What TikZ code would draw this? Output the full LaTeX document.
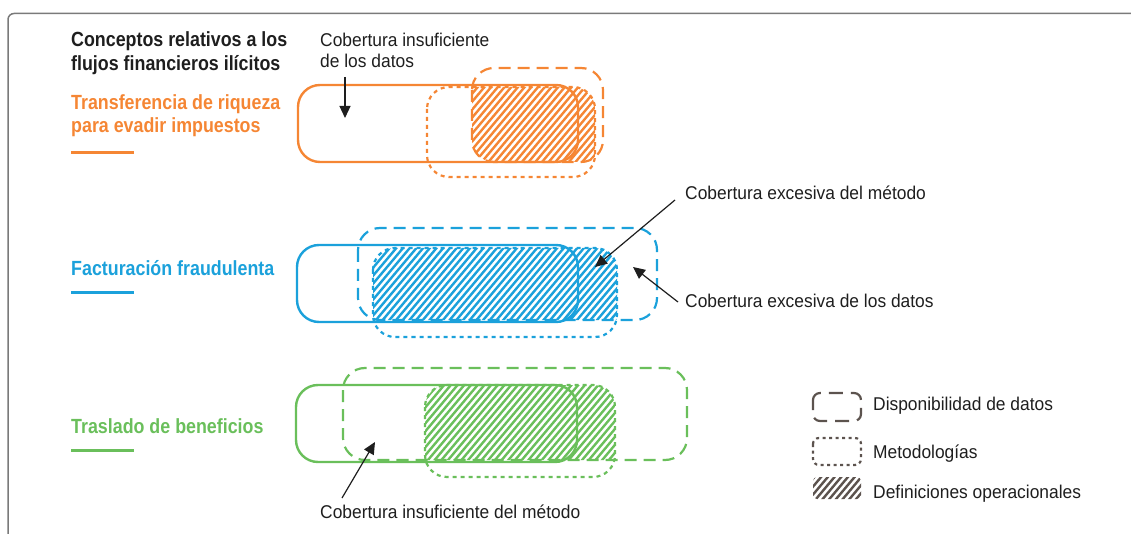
\documentclass[tikz,border=0pt]{standalone}
\usepackage{fontspec}
\setmainfont{Liberation Sans}[FakeStretch=0.94, BoldFeatures={FakeStretch=0.87}]
\usetikzlibrary{arrows.meta}
\definecolor{cor}{HTML}{F58634}
\definecolor{cbl}{HTML}{1BA1DB}
\definecolor{cgr}{HTML}{6ABF5B}
\definecolor{cleg}{HTML}{5C534E}
\definecolor{cframe}{HTML}{7A7A7A}
\definecolor{txt}{HTML}{1E1E1E}
\newcommand\hatchlines[3]{%
  \foreach \k in {0,...,75}{\draw[#1,line width=2.4pt] ({#2-95+6.7*\k},{#3+5}) -- ++(90,-107);}}
\tikzset{
  solidbox/.style={line width=2.4pt, rounded corners=22pt},
  databox/.style={line width=2.2pt, rounded corners=22pt, dash pattern=on 12pt off 7pt},
  methbox/.style={line width=2.2pt, rounded corners=22pt, dash pattern=on 4pt off 4pt},
  arr/.style={line width=1.2pt, txt, -{Triangle[length=12pt,width=11pt]}},
  lbl/.style={anchor=base west, inner sep=0pt, font=\fontsize{18.5}{21}\selectfont, text=txt},
  ttl/.style={anchor=base west, inner sep=0pt, font=\fontsize{20.5}{24}\selectfont\bfseries},
  uline/.style={line width=3pt}
}
\begin{document}
\begin{tikzpicture}[x=1pt,y=-1pt]
\useasboundingbox (0,0) rectangle (1131,534);
\clip (0,0) rectangle (1131,534);
% frame
\draw[cframe, line width=1.5pt, rounded corners=6pt] (8,545) -- (8,13.5) -- (1145,13.5);

% titles
\node[ttl, text=txt] (t1) at (71,47) {Conceptos relativos a los};
\node[ttl, text=txt] (t2) at (71,71) {flujos financieros ilícitos};
\node[ttl, text=cor] (o1) at (71,110) {Transferencia de riqueza};
\node[ttl, text=cor] (o2) at (71,133) {para evadir impuestos};
\draw[uline, cor] (71,152.5) -- (134,152.5);
\node[ttl, text=cbl] (b1) at (71,276) {Facturación fraudulenta};
\draw[uline, cbl] (71,293) -- (134,293);
\node[ttl, text=cgr] (g1) at (71,433) {Traslado de beneficios};
\draw[uline, cgr] (71,450) -- (134,450);

% orange row
\begin{scope}
\clip[rounded corners=22pt] (472,68) rectangle (603,162);
\clip[rounded corners=22pt] (427,87) rectangle (595,177);
\hatchlines{cor}{472}{162}
\end{scope}
\draw[solidbox, cor] (298,85) rectangle (578,162);
\draw[methbox, cor] (427,87) rectangle (595,177);
\draw[databox, cor] (472,68) rectangle (603,162);

% blue row
\begin{scope}
\clip[rounded corners=22pt] (358,228) rectangle (657,320);
\clip[rounded corners=22pt] (373,248) rectangle (617,337);
\hatchlines{cbl}{373}{320}
\end{scope}
\draw[solidbox, cbl] (297,245) rectangle (578,322);
\draw[methbox, cbl] (373,248) rectangle (617,337);
\draw[databox, cbl] (358,228) rectangle (657,320);

% green row
\begin{scope}
\clip[rounded corners=22pt] (343,368) rectangle (687,460);
\clip[rounded corners=22pt] (425,385) rectangle (615,477);
\hatchlines{cgr}{425}{460}
\end{scope}
\draw[solidbox, cgr] (296,385) rectangle (577,462);
\draw[methbox, cgr] (425,385) rectangle (615,477);
\draw[databox, cgr] (343,368) rectangle (687,460);

% annotations
\node[lbl] (l1a) at (320,47) {Cobertura insuficiente};
\node[lbl] (l1b) at (320,68) {de los datos};
\coordinate (a1s) at (345,77);
\coordinate (a1e) at (345,118);
\draw[arr] (a1s) -- (a1e);

\node[lbl] (l2) at (685,200) {Cobertura excesiva del método};
\coordinate (a2s) at (675,200);
\coordinate (a2e) at (595,267);
\draw[arr] (a2s) -- (a2e);

\node[lbl] (l3) at (685,307) {Cobertura excesiva de los datos};
\coordinate (a3s) at (678,302);
\coordinate (a3e) at (633,267);
\draw[arr] (a3s) -- (a3e);

\node[lbl] (l4) at (320,518) {Cobertura insuficiente del método};
\coordinate (a4s) at (342,498);
\coordinate (a4e) at (375,442);
\draw[arr] (a4s) -- (a4e);

% legend
\draw[cleg, line width=2.2pt, rounded corners=7pt, dash pattern=on 14pt off 8pt, dash phase=4pt] (813,393) rectangle (861,421);
\node[lbl] (k1) at (873,410) {Disponibilidad de datos};
\draw[cleg, line width=2.2pt, rounded corners=6pt, dash pattern=on 3pt off 3.5pt] (813,438) rectangle (861,465);
\node[lbl] (k2) at (873,458) {Metodologías};
\begin{scope}
\clip[rounded corners=4pt] (813,477) rectangle (861,499);
\hatchlines{cleg}{813}{499}
\end{scope}
\node[lbl] (k3) at (873,498) {Definiciones operacionales};
\end{tikzpicture}
\end{document}
